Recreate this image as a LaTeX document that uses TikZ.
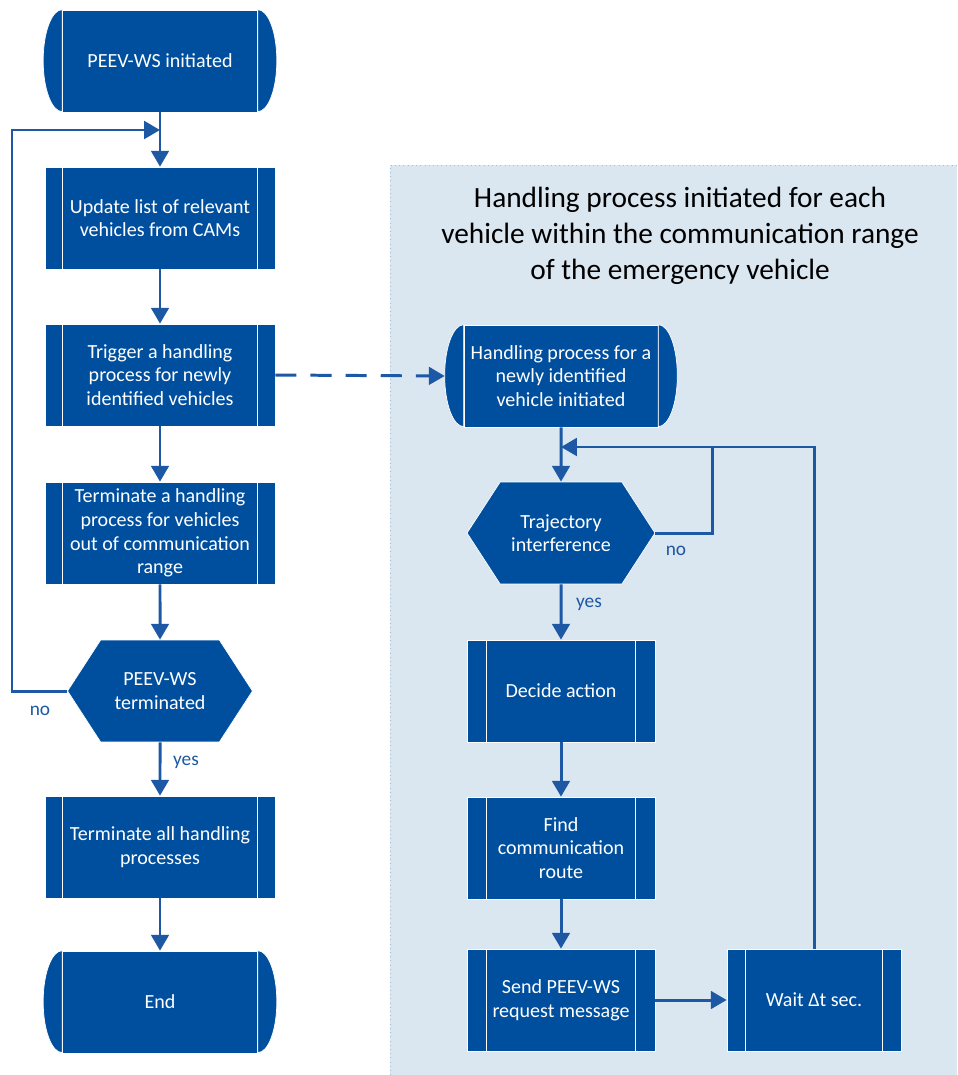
\documentclass[tikz,border=0pt]{standalone}
\usepackage{fontspec}
\setmainfont{Carlito}
\usepackage{tikz}
\usetikzlibrary{arrows.meta,positioning,calc,shapes.symbols}

\definecolor{boxblue}{RGB}{0,79,158}
\definecolor{lineblue}{RGB}{28,88,164}
\definecolor{panelbg}{RGB}{218,230,240}
\definecolor{panelrim}{RGB}{165,188,210}

\tikzset{
  box/.style={fill=boxblue,draw=white,thin,text=white,align=center,
    font=\fontsize{11.4}{13.4}\selectfont,minimum height=2.04cm,inner sep=0pt},
  procl/.style={box,minimum width=4.6cm},
  procr/.style={box,minimum width=3.76cm},
  termb/.style={box,minimum width=3.9cm},
  hexa/.style={box,signal,signal to=east and west,signal pointer angle=114,minimum height=2.04cm},
  flow/.style={lineblue,line width=1.7pt,-{Triangle[width=10pt,length=9pt]}},
  plain/.style={lineblue,line width=1.7pt},
  lbl/.style={text=lineblue,font=\fontsize{11}{12}\selectfont},
  bar/.style={white,thin},
  endcap/.style={fill=boxblue,draw=white,thin}
}

\begin{document}
\begin{tikzpicture}[x=0.02cm,y=-0.02cm]
  \useasboundingbox (0,0) rectangle (957,1075);
  % panel for the handling process
  \fill[panelbg] (390,165) rectangle (957,1075);
  \draw[panelrim,dotted] (390,1075) -- (390,165) -- (957,165);
  \node[align=center,font=\fontsize{16.7}{20.4}\selectfont] (title) at (680,236)
    {Handling process initiated for each\\vehicle within the communication range\\of the emergency vehicle};

  % main loop
  \node[termb] (start) at (160,61) {PEEV-WS initiated};
  \node[procl] (upd) at (160,218) {Update list of relevant\\vehicles from CAMs};
  \node[procl] (trig) at (160,375) {Trigger a handling\\process for newly\\identified vehicles};
  \node[procl] (termv) at (160,533) {Terminate a handling\\process for vehicles\\out of communication\\range};
  \node[hexa,minimum width=3.7cm] (stopq) at (160,691) {PEEV-WS\\terminated};
  \node[procl] (terma) at (160,847) {Terminate all handling\\processes};
  \node[termb] (stop) at (160,1002) {End};

  % handling process
  \node[termb,minimum width=3.88cm] (hinit) at (561,376) {Handling process for a\\newly identified\\vehicle initiated};
  \node[hexa,minimum width=3.76cm] (traj) at (561,533) {Trajectory\\interference};
  \node[procr] (decide) at (561,691) {Decide action};
  \node[procr] (route) at (561,848) {Find\\communication\\route};
  \node[procr] (send) at (561,1000) {Send PEEV-WS\\request message};
  \node[box,minimum width=3.48cm] (wait) at (814,1000) {Wait Δt sec.};

  % end caps and side bars
  \foreach \n in {start,stop,hinit} {
    \filldraw[endcap] (\n.north west) arc[start angle=90,end angle=270,x radius=0.38cm,y radius=1.02cm] -- cycle;
    \filldraw[endcap] (\n.north east) arc[start angle=90,end angle=-90,x radius=0.38cm,y radius=1.02cm] -- cycle;
  }
  \foreach \n/\w in {upd/0.36cm,trig/0.36cm,termv/0.36cm,terma/0.36cm,decide/0.4cm,route/0.4cm,send/0.4cm,wait/0.38cm}
    \draw[bar] ([xshift=\w]\n.north west) -- ([xshift=\w]\n.south west)
               ([xshift=-\w]\n.north east) -- ([xshift=-\w]\n.south east);

  % connectors left
  \coordinate (back) at (160,130);
  \coordinate (lcorner) at (12,691);
  \draw[flow] (start) -- (upd);
  \draw[flow] (upd) -- (trig);
  \draw[flow] (trig) -- (termv);
  \draw[flow] (termv) -- (stopq);
  \draw[flow] (stopq) -- (terma);
  \draw[flow] (terma) -- (stop);
  \draw[flow] (stopq.west) -- (lcorner) |- (back);
  \node[lbl] (lno) at (40,711) {no};
  \node[lbl] (lyes) at (186,762) {yes};

  % connectors right
  \coordinate (loop) at (561,447);
  \coordinate (join) at (712,447);
  \draw[flow,dash pattern=on 12pt off 8pt] (trig.east) -- ([xshift=-0.38cm]hinit.west);
  \draw[flow] (hinit) -- (traj);
  \draw[flow] (traj) -- (decide);
  \draw[flow] (decide) -- (route);
  \draw[flow] (route) -- (send);
  \draw[flow] (send) -- (wait);
  \draw[flow] (wait.north) |- (loop);
  \draw[plain] (traj.east) -| (join);
  \node[lbl] (rno) at (676,551) {no};
  \node[lbl] (ryes) at (589,604) {yes};
\end{tikzpicture}
\end{document}
